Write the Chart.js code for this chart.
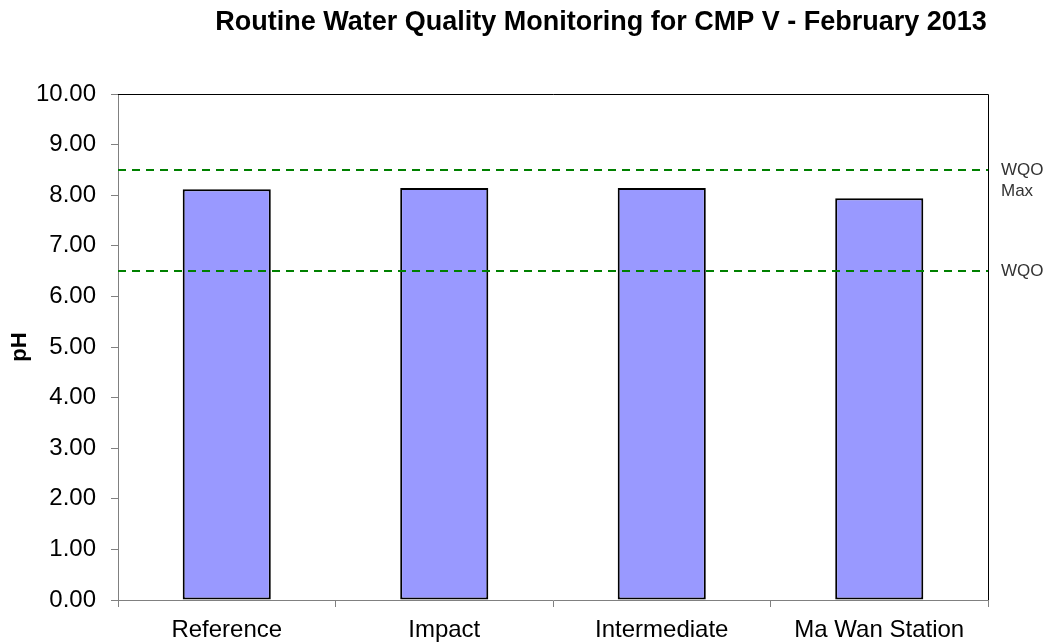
<!DOCTYPE html>
<html>
<head>
<meta charset="utf-8">
<script src="https://cdn.jsdelivr.net/npm/chart.js@4.4.1/dist/chart.umd.min.js"></script>
<style>
  html, body { margin: 0; padding: 0; background: #fff; }
  #wrap { width: 1050px; height: 644px; }
</style>
</head>
<body>
<div id="wrap"><canvas id="chart" width="1050" height="644"></canvas></div>
<script>
const chartTitle = 'Routine Water Quality Monitoring for CMP V - February 2013';
const categories = ['Reference', 'Impact', 'Intermediate', 'Ma Wan Station'];
const phValues = [8.12, 8.14, 8.14, 7.94];
const yMin = 0;
const yMax = 10;
const yStep = 1;
const wqoMax = 8.5;
const wqoMin = 6.5;
const wqoMaxLabel = ['WQO', 'Max'];
const wqoMinLabel = ['WQO'];

const FONT = '"Liberation Sans", Arial, sans-serif';

// frame, WQO limit lines, side labels and title
const extras = {
  id: 'extras',
  afterDatasetsDraw(chart) {
    const { ctx, chartArea: a, scales: { y } } = chart;
    ctx.save();

    // top and right edge of plot area
    ctx.strokeStyle = '#000';
    ctx.lineWidth = 1;
    ctx.beginPath();
    ctx.moveTo(a.left, a.top + 0.5);
    ctx.lineTo(a.right + 0.5, a.top + 0.5);
    ctx.lineTo(a.right + 0.5, a.bottom);
    ctx.stroke();

    // dashed limits
    ctx.strokeStyle = '#008000';
    ctx.lineWidth = 2;
    ctx.setLineDash([8, 6]);
    [wqoMax, wqoMin].forEach(v => {
      const py = Math.round(y.getPixelForValue(v));
      ctx.beginPath();
      ctx.moveTo(a.left, py);
      ctx.lineTo(a.right, py);
      ctx.stroke();
    });
    ctx.setLineDash([]);

    // limit labels
    ctx.fillStyle = '#333';
    ctx.font = '17px ' + FONT;
    ctx.textAlign = 'left';
    ctx.textBaseline = 'middle';
    const lx = a.right + 13;
    wqoMaxLabel.forEach((t, i) => ctx.fillText(t, lx, y.getPixelForValue(wqoMax) + i * 21));
    wqoMinLabel.forEach((t, i) => ctx.fillText(t, lx, y.getPixelForValue(wqoMin) + i * 21));

    // title
    ctx.fillStyle = '#000';
    ctx.font = 'bold 27px ' + FONT;
    ctx.textAlign = 'center';
    ctx.fillText(chartTitle, 601, 23);

    ctx.restore();
  }
};

new Chart(document.getElementById('chart'), {
  type: 'bar',
  data: {
    labels: categories,
    datasets: [{
      label: 'pH',
      data: phValues,
      backgroundColor: '#9999FF',
      borderColor: '#000',
      borderWidth: 2,
      borderSkipped: false,
      barPercentage: 0.405,
      categoryPercentage: 1
    }]
  },
  options: {
    responsive: false,
    animation: false,
    layout: { padding: { top: 94, right: 62, bottom: 0, left: 0 } },
    plugins: {
      legend: { display: false },
      tooltip: { enabled: false },
      title: { display: false }
    },
    scales: {
      x: {
        grid: { drawOnChartArea: false, drawTicks: true, tickLength: 7, color: '#808080' },
        border: { color: '#808080' },
        ticks: {
          color: '#000',
          font: { family: FONT, size: 24 },
          padding: 9,
          autoSkip: false,
          maxRotation: 0
        },
        afterFit(scale) { scale.height = 44; }
      },
      y: {
        min: yMin,
        max: yMax,
        grid: { drawOnChartArea: false, drawTicks: true, tickLength: 7, color: '#808080' },
        border: { color: '#808080' },
        ticks: {
          stepSize: yStep,
          color: '#000',
          font: { family: FONT, size: 24 },
          padding: 15,
          callback: v => Number(v).toFixed(2)
        },
        title: {
          display: true,
          text: 'pH',
          color: '#000',
          font: { family: FONT, size: 22, weight: 'bold' },
          padding: { top: 7, bottom: 0 }
        },
        afterFit(scale) { scale.width = 118; }
      }
    }
  },
  plugins: [extras]
});
</script>
</body>
</html>
